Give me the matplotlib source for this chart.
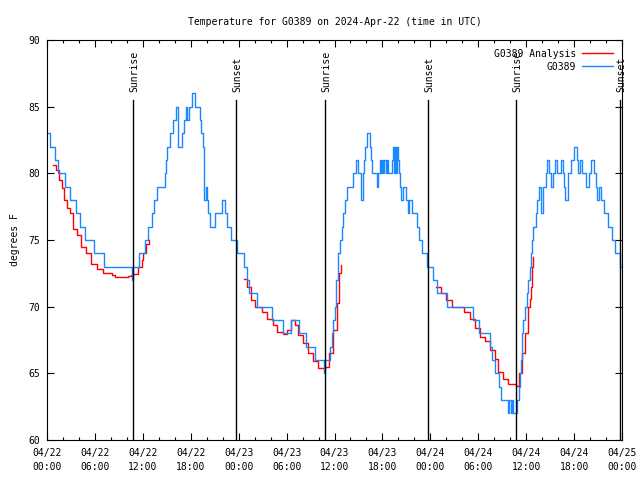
import matplotlib
matplotlib.use("Agg")
import matplotlib.pyplot as plt
import matplotlib.dates as mdates
from datetime import datetime, timedelta

# hours after 2024-04-22 00:00 UTC
blue_hours = [0.00, 0.38, 1.06, 1.34, 2.25, 2.88, 3.57, 4.13, 4.82, 5.89, 7.08, 10.61, 10.77,
              11.52, 12.31, 12.68, 13.19, 13.46, 13.74, 14.78, 14.90, 15.06, 15.40, 15.82, 16.15,
              16.44, 16.94, 17.19, 17.41, 17.57, 17.82, 18.19, 18.53, 19.12, 19.28, 19.53, 19.72,
              19.90, 20.04, 20.22, 20.41, 21.04, 21.91, 22.29, 22.54, 23.04, 23.83, 24.67, 25.01,
              25.33, 26.26, 28.14, 29.51, 30.52, 31.59, 32.43, 33.50, 34.72, 34.87, 35.44, 35.63,
              35.85, 36.00, 36.13, 36.25, 36.40, 36.50, 36.69, 36.90, 37.10, 37.32, 37.60, 38.35,
              38.69, 38.98, 39.32, 39.53, 39.69, 39.82, 40.11, 40.45, 40.57, 40.66, 41.26, 41.49,
              41.70, 41.82, 41.99, 42.11, 42.24, 42.41, 42.54, 42.74, 43.16, 43.29, 43.45, 43.58,
              43.70, 43.86, 43.99, 44.08, 44.20, 44.37, 44.54, 44.95, 45.17, 45.37, 45.71, 46.29,
              46.58, 46.96, 47.62, 48.30, 48.87, 50.13, 53.28, 54.13, 55.47, 55.72, 56.10, 56.60,
              56.81, 57.76, 57.91, 58.06, 58.23, 58.39, 58.89, 59.04, 59.23, 59.35, 59.44, 59.54,
              59.64, 59.85, 60.07, 60.27, 60.48, 60.61, 60.73, 60.90, 61.17, 61.40, 61.61, 61.82,
              62.07, 62.48, 62.65, 62.86, 63.07, 63.32, 63.61, 63.90, 64.36, 64.57, 64.74, 64.86,
              65.18, 65.61, 66.05, 66.37, 66.55, 66.80, 67.05, 67.49, 67.93, 68.12, 68.49, 68.74,
              68.93, 69.06, 69.37, 69.75, 70.25, 70.69, 71.13, 71.69, 71.88]
blue_temps = [83, 82, 81, 80, 79, 78, 77, 76, 75, 74, 73, 72, 73,
              74, 75, 76, 77, 78, 79, 80, 81, 82, 83, 84, 85,
              82, 83, 84, 85, 84, 85, 86, 85, 84, 83, 82, 78,
              79, 78, 77, 76, 77, 78, 77, 76, 75, 74, 73, 72,
              71, 70, 69, 68, 69, 68, 67, 66, 65, 66, 67, 68,
              69, 70, 71, 72, 73, 74, 75, 76, 77, 78, 79, 80,
              81, 80, 78, 80, 81, 82, 83, 82, 81, 80, 79, 80,
              81, 80, 81, 80, 81, 80, 81, 80, 81, 82, 80, 82,
              80, 82, 81, 80, 79, 78, 79, 78, 77, 78, 77, 76,
              75, 74, 73, 72, 71, 70, 69, 68, 67, 66, 65, 64,
              63, 62, 63, 62, 63, 62, 63, 64, 65, 66, 67, 68,
              69, 70, 71, 72, 73, 74, 75, 76, 77, 78, 79, 77,
              79, 80, 81, 80, 79, 80, 81, 80, 81, 80, 79, 78,
              80, 81, 82, 81, 80, 81, 80, 79, 80, 81, 80, 79,
              78, 79, 78, 77, 76, 75, 74, 73, 73]

# analysis series, three separate pieces
red1_hours = [0.79, 1.09, 1.50, 1.92, 2.17, 2.47, 2.88, 3.29, 3.79, 4.26, 4.85, 5.51, 6.22,
              7.05, 8.10, 8.51, 9.77, 10.11, 10.52, 10.81, 11.36, 11.86, 12.06, 12.40, 12.77]
red1_temps = [80.6, 80.25, 79.5, 78.9, 78.0, 77.4, 77.0, 75.8, 75.4, 74.5, 74.0, 73.2, 72.8,
              72.5, 72.4, 72.25, 72.2, 72.3, 72.4, 72.45, 73.0, 73.5, 74.0, 74.7, 75.0]
red2_hours = [24.67, 25.08, 25.51, 26.05, 26.88, 27.51, 28.26, 28.84, 29.59, 30.09, 30.55, 31.05,
              31.47, 32.09, 32.72, 33.35, 33.97, 34.60, 34.85, 35.35, 35.85, 36.28, 36.60, 36.78]
red2_temps = [72.05, 71.5, 70.5, 70.0, 69.6, 69.1, 68.6, 68.1, 67.95, 68.25, 69.0, 68.6,
              67.9, 67.25, 66.5, 65.9, 65.4, 65.4, 65.5, 66.5, 68.25, 70.25, 72.5, 73.1]
red3_hours = [48.71, 49.30, 49.96, 50.68, 51.93, 52.22, 52.97, 53.59, 54.22, 54.85, 55.47, 56.10,
              56.51, 57.14, 57.76, 58.73, 59.07, 59.44, 59.85, 60.27, 60.48, 60.61, 60.73, 60.82]
red3_temps = [71.5, 71.0, 70.5, 70.0, 70.0, 69.6, 69.05, 68.4, 67.75, 67.4, 66.75, 66.1,
              65.1, 64.6, 64.2, 64.05, 65.0, 66.5, 68.0, 70.0, 70.6, 71.5, 73.0, 73.7]

sun_hours = [10.77, 23.67, 34.78, 47.70, 58.75, 71.73]
sun_labels = ["Sunrise", "Sunset", "Sunrise", "Sunset", "Sunrise", "Sunset"]

base = datetime(2024, 4, 22)
def to_dt(hours):
    return [base + timedelta(hours=h) for h in hours]

plt.rcParams['font.family'] = "DejaVu Sans Mono"
plt.rcParams['font.size'] = 7

fig = plt.figure(figsize=(6.4, 4.8), dpi=100)
ax = fig.add_axes([47 / 640, 40 / 480, 575 / 640, 400 / 480])

blue = '#1a88ff'
red = '#ff0000'

for hrs, tmp in [(red1_hours, red1_temps), (red2_hours, red2_temps), (red3_hours, red3_temps)]:
    ax.plot(to_dt(hrs), tmp, color=red, lw=1.0, drawstyle='steps-post')
ax.plot([], [], color=red, lw=1.0, label='G0389 Analysis')
ax.plot(to_dt(blue_hours), blue_temps, color=blue, lw=1.0, drawstyle='steps-post', label='G0389')

# sunrise / sunset markers
for h, lab in zip(sun_hours, sun_labels):
    t = base + timedelta(hours=h)
    ax.plot([t, t], [60, 85.5], color='black', lw=1.0)
    ax.annotate(lab, (mdates.date2num(t), 86.1), xytext=(1.2, 0), textcoords='offset points',
                rotation=90, ha='center', va='bottom', fontsize=7)

ax.set_xlim(base, base + timedelta(hours=72))
ax.set_ylim(60, 90)
ax.set_yticks(range(60, 91, 5))

ax.xaxis.set_major_locator(mdates.HourLocator(byhour=range(0, 24, 6)))
ax.xaxis.set_minor_locator(mdates.HourLocator(byhour=range(0, 24, 2)))
ax.xaxis.set_major_formatter(mdates.DateFormatter('%m/%d\n%H:%M'))

ax.tick_params(which='both', direction='in', top=True, right=True, width=0.8)
ax.tick_params(which='major', length=5)
ax.tick_params(which='minor', length=2.5)
ax.tick_params(axis='x', which='major', pad=6)
ax.tick_params(axis='y', which='major', pad=5)
for s in ax.spines.values():
    s.set_linewidth(0.8)

ax.set_ylabel('degrees F', labelpad=6)
ax.set_title('Temperature for G0389 on 2024-Apr-22 (time in UTC)', fontsize=7, pad=11)

leg = ax.legend(loc='upper right', frameon=False, markerfirst=False, handlelength=3.2,
                handletextpad=0.6, labelspacing=0.3, borderaxespad=0.5, fontsize=7)

fig.canvas.draw()
for lbl in ax.get_xticklabels():
    lbl.set_linespacing(1.5)

fig.savefig('out.png', dpi=100)
